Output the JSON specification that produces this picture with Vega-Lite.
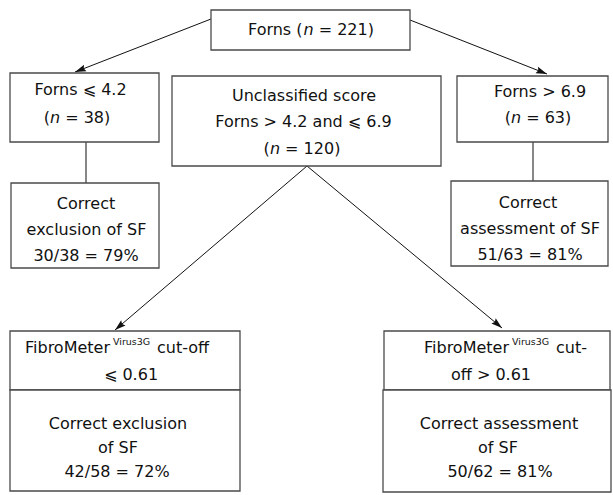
{
  "$schema": "https://vega.github.io/schema/vega-lite/v6.json",
  "width": 613,
  "height": 495,
  "autosize": {"type": "fit", "contains": "padding"},
  "padding": 0,
  "background": "white",
  "config": {"view": {"stroke": null}},
  "datasets": {
    "boxes": [
      {"id": "top", "x": 211, "x2": 410, "y": 10, "y2": 50},
      {"id": "low", "x": 10, "x2": 159, "y": 73, "y2": 142},
      {"id": "mid", "x": 172, "x2": 441, "y": 76, "y2": 166},
      {"id": "high", "x": 457, "x2": 608, "y": 76, "y2": 142},
      {"id": "lowres", "x": 11, "x2": 159, "y": 183, "y2": 268},
      {"id": "highres", "x": 451, "x2": 608, "y": 181, "y2": 266},
      {"id": "fmlow", "x": 10, "x2": 240, "y": 331, "y2": 390},
      {"id": "fmlowres", "x": 10, "x2": 240, "y": 390, "y2": 491},
      {"id": "fmhigh", "x": 384, "x2": 610, "y": 331, "y2": 390},
      {"id": "fmhighres", "x": 383, "x2": 611, "y": 390, "y2": 492}
    ],
    "links": [
      {"x": 211, "y": 19, "x2": 75, "y2": 72},
      {"x": 410, "y": 20, "x2": 547, "y2": 74},
      {"x": 86, "y": 142, "x2": 86, "y2": 183},
      {"x": 533, "y": 142, "x2": 533, "y2": 181},
      {"x": 307, "y": 166, "x2": 115, "y2": 330},
      {"x": 307, "y": 166, "x2": 502, "y2": 328}
    ],
    "arrows": [
      {"x": 75, "y": 72, "angle": 248.7},
      {"x": 547, "y": 74, "angle": 111.5},
      {"x": 115, "y": 330, "angle": 229.5},
      {"x": 502, "y": 328, "angle": 129.7}
    ],
    "texts": [
      {"role": "l", "x": 248.0, "y": 30, "text": "Forns ("},
      {"role": "i", "x": 303.4, "y": 30, "text": "n"},
      {"role": "l", "x": 318.7, "y": 30, "text": "= 221)"},
      {"role": "c", "x": 80.5, "y": 90, "text": "Forns ⩽ 4.2"},
      {"role": "l", "x": 43.7, "y": 118, "text": "("},
      {"role": "i", "x": 49.9, "y": 118, "text": "n"},
      {"role": "l", "x": 65.2, "y": 118, "text": "= 38)"},
      {"role": "c", "x": 304, "y": 96, "text": "Unclassified score"},
      {"role": "c", "x": 303.5, "y": 122, "text": "Forns > 4.2 and ⩽ 6.9"},
      {"role": "l", "x": 263.6, "y": 149, "text": "("},
      {"role": "i", "x": 269.9, "y": 149, "text": "n"},
      {"role": "l", "x": 285.1, "y": 149, "text": "= 120)"},
      {"role": "c", "x": 540, "y": 92, "text": "Forns > 6.9"},
      {"role": "l", "x": 504.7, "y": 118, "text": "("},
      {"role": "i", "x": 511.0, "y": 118, "text": "n"},
      {"role": "l", "x": 526.2, "y": 118, "text": "= 63)"},
      {"role": "c", "x": 86, "y": 204, "text": "Correct"},
      {"role": "c", "x": 86.5, "y": 230, "text": "exclusion of SF"},
      {"role": "c", "x": 86, "y": 256, "text": "30/38 = 79%"},
      {"role": "c", "x": 528, "y": 203, "text": "Correct"},
      {"role": "c", "x": 530, "y": 229, "text": "assessment of SF"},
      {"role": "c", "x": 530, "y": 255, "text": "51/63 = 81%"},
      {"role": "l", "x": 25, "y": 348, "text": "FibroMeter"},
      {"role": "s", "x": 113, "y": 348, "text": "Virus3G"},
      {"role": "l", "x": 157, "y": 348, "text": "cut-off"},
      {"role": "c", "x": 131, "y": 375, "text": "⩽ 0.61"},
      {"role": "l", "x": 424, "y": 348, "text": "FibroMeter"},
      {"role": "s", "x": 512, "y": 348, "text": "Virus3G"},
      {"role": "l", "x": 556, "y": 348, "text": "cut-"},
      {"role": "c", "x": 491, "y": 375, "text": "off > 0.61"},
      {"role": "c", "x": 118, "y": 424, "text": "Correct exclusion"},
      {"role": "c", "x": 118, "y": 448, "text": "of SF"},
      {"role": "c", "x": 117, "y": 472, "text": "42/58 = 72%"},
      {"role": "c", "x": 499, "y": 424, "text": "Correct assessment"},
      {"role": "c", "x": 498, "y": 448, "text": "of SF"},
      {"role": "c", "x": 500, "y": 472, "text": "50/62 = 81%"}
    ]
  },
  "layer": [
    {
      "data": {"name": "links"},
      "mark": {"type": "rule", "color": "#111", "strokeWidth": 1},
      "encoding": {
        "x": {"field": "x", "type": "quantitative", "scale": {"domain": [0, 613], "nice": false, "zero": false}, "axis": null},
        "y": {"field": "y", "type": "quantitative", "scale": {"domain": [0, 495], "nice": false, "zero": false, "reverse": true}, "axis": null},
        "x2": {"field": "x2"},
        "y2": {"field": "y2"}
      }
    },
    {
      "data": {"name": "boxes"},
      "mark": {"type": "rect", "fill": "white", "stroke": "#4a4a4a", "strokeWidth": 1.3},
      "encoding": {
        "x": {"field": "x", "type": "quantitative", "scale": {"domain": [0, 613], "nice": false, "zero": false}, "axis": null},
        "y": {"field": "y", "type": "quantitative", "scale": {"domain": [0, 495], "nice": false, "zero": false, "reverse": true}, "axis": null},
        "x2": {"field": "x2"},
        "y2": {"field": "y2"}
      }
    },
    {
      "data": {"name": "arrows"},
      "mark": {"type": "point", "shape": "M0,0 L-0.62,2 L0,1.7 L0.62,2 Z", "filled": true, "color": "#111", "opacity": 1, "size": 121},
      "encoding": {
        "x": {"field": "x", "type": "quantitative", "scale": {"domain": [0, 613], "nice": false, "zero": false}, "axis": null},
        "y": {"field": "y", "type": "quantitative", "scale": {"domain": [0, 495], "nice": false, "zero": false, "reverse": true}, "axis": null},
        "angle": {"field": "angle", "type": "quantitative", "scale": null}
      }
    },
    {
      "data": {"name": "texts"},
      "transform": [{"filter": "datum.role === 'c'"}],
      "mark": {"type": "text", "font": "DejaVu Sans", "fontSize": 16, "color": "#111", "align": "center", "baseline": "middle"},
      "encoding": {
        "x": {"field": "x", "type": "quantitative", "scale": {"domain": [0, 613], "nice": false, "zero": false}, "axis": null},
        "y": {"field": "y", "type": "quantitative", "scale": {"domain": [0, 495], "nice": false, "zero": false, "reverse": true}, "axis": null},
        "text": {"field": "text"}
      }
    },
    {
      "data": {"name": "texts"},
      "transform": [{"filter": "datum.role === 'l'"}],
      "mark": {"type": "text", "font": "DejaVu Sans", "fontSize": 16, "color": "#111", "align": "left", "baseline": "middle"},
      "encoding": {
        "x": {"field": "x", "type": "quantitative", "scale": {"domain": [0, 613], "nice": false, "zero": false}, "axis": null},
        "y": {"field": "y", "type": "quantitative", "scale": {"domain": [0, 495], "nice": false, "zero": false, "reverse": true}, "axis": null},
        "text": {"field": "text"}
      }
    },
    {
      "data": {"name": "texts"},
      "transform": [{"filter": "datum.role === 'i'"}],
      "mark": {"type": "text", "font": "DejaVu Sans", "fontSize": 16, "fontStyle": "italic", "color": "#111", "align": "left", "baseline": "middle"},
      "encoding": {
        "x": {"field": "x", "type": "quantitative", "scale": {"domain": [0, 613], "nice": false, "zero": false}, "axis": null},
        "y": {"field": "y", "type": "quantitative", "scale": {"domain": [0, 495], "nice": false, "zero": false, "reverse": true}, "axis": null},
        "text": {"field": "text"}
      }
    },
    {
      "data": {"name": "texts"},
      "transform": [{"filter": "datum.role === 's'"}],
      "mark": {"type": "text", "font": "DejaVu Sans", "fontSize": 9.5, "color": "#111", "align": "left", "baseline": "middle", "dy": -6},
      "encoding": {
        "x": {"field": "x", "type": "quantitative", "scale": {"domain": [0, 613], "nice": false, "zero": false}, "axis": null},
        "y": {"field": "y", "type": "quantitative", "scale": {"domain": [0, 495], "nice": false, "zero": false, "reverse": true}, "axis": null},
        "text": {"field": "text"}
      }
    }
  ]
}
